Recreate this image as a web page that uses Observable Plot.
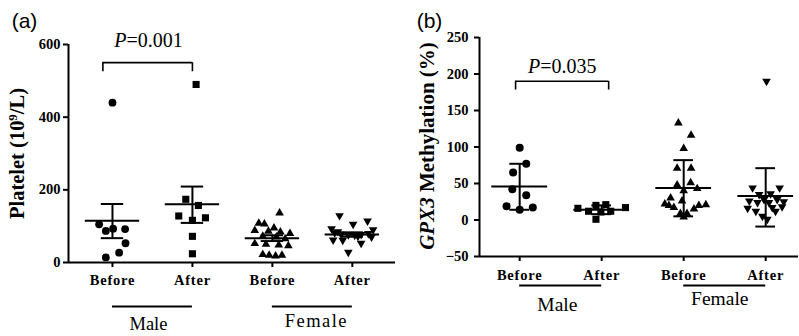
<!DOCTYPE html>
<html>
<head>
<meta charset="utf-8">
<script src="https://cdn.jsdelivr.net/npm/d3@7"></script>
<script src="https://cdn.jsdelivr.net/npm/@observablehq/plot@0.6"></script>
<style>
  body { margin: 0; background: #fff; }
  #wrap { position: relative; width: 799px; height: 336px; overflow: hidden; background: #fff; }
  #wrap svg { position: absolute; top: 0; }
  #wrap svg text { font-family: "Liberation Serif", "Times New Roman", serif !important; }
  #wrap svg .tag text { font-family: "Liberation Sans", Arial, sans-serif !important; }
</style>
</head>
<body>
<div id="wrap"></div>
<script>
// ---------- data ----------
const categories = ["Before", "After", "Before", "After"];
const groups = ["Male", "Female"];

// (a) Platelet (10^9/L)
const plateletTicks = [0, 200, 400, 600];
const pltMaleBefore = [440, 105, 87, 93, 92, 53, 27, 14];
const pltMaleBeforeOff = [0, -0.167, -0.083, 0.008, 0.158, 0.163, 0.083, -0.083];
const pltMaleAfter = [490, 174, 157, 128, 123, 116, 72, 24];
const pltMaleAfterOff = [0.046, -0.083, 0.075, -0.171, 0.163, 0, 0, 0];
const pltFemaleBefore = [136, 108, 106, 95, 88, 86, 84, 80, 72, 70, 65, 52, 50, 48, 46, 22, 20, 18, 20];
const pltFemaleBeforeOff = [0.09, -0.17, -0.1, 0.02, -0.22, -0.05, 0.1, 0.22, -0.12, 0.05, 0.16, -0.22, -0.08, 0.08, 0.2, -0.12, -0.04, 0.04, 0.12];
const pltFemaleAfter = [129, 105, 114, 93, 90, 82, 78, 76, 75, 77, 80, 62, 61, 53, 70, 28, 72, 85];
const pltFemaleAfterOff = [-0.16, 0.01, 0.19, -0.26, 0.26, -0.22, -0.14, -0.05, 0.03, 0.11, 0.2, -0.24, -0.12, 0.11, 0.24, -0.05, 0.07, -0.18];
const pltMean = [115, 160, 67, 77];
const pltHi = [161, 209, 75, 83];
const pltLo = [67, 109, 59, 71];
const pltP = "P=0.001";

// (b) GPX3 Methylation (%)
const methylTicks = [-50, 0, 50, 100, 150, 200, 250];
const gpxMaleBefore = [99, 77, 65, 42, 34, 19, 17, 14];
const gpxMaleBeforeOff = [0, 0.08, -0.08, -0.09, 0.08, -0.16, 0.16, 0];
const gpxMaleAfter = [16, 12, 20, 1, 11, 21, 12, 17];
const gpxMaleAfterOff = [-0.29, -0.16, -0.07, -0.07, -0.01, 0.05, 0.11, 0.29];
const gpxFemaleBefore = [133, 116, 98, 71, 71, 48, 51, 43, 40, 30, 22, 20, 17, 26, 15, 20, 21, 4, 9, 9];
const gpxFemaleBeforeOff = [-0.065, 0.09, 0, -0.08, 0.09, -0.08, 0.085, 0.165, 0, -0.16, -0.23, -0.18, -0.12, -0.02, 0.125, 0.185, 0.27, 0, -0.04, 0.04];
const gpxFemaleAfter = [190, 44, 44, 35, 36, 26, 28, 28, 25, 16, 12, 17, 18, 5, 1, 12, 24, 24];
const gpxFemaleAfterOff = [0.01, -0.16, 0.17, -0.08, 0.06, -0.2, -0.02, 0.14, 0.22, -0.22, -0.12, 0.08, 0.2, -0.04, 0.02, 0.12, -0.1, 0.04];
const gpxMean = [46, 14, 44, 33];
const gpxHi = [77, 20, 82, 71];
const gpxLo = [14, 8, 5, -9];
const gpxP = "P=0.035";

// ---------- helpers ----------
const triDown = {
  draw(context, size) {
    const y = -Math.sqrt(size / (Math.sqrt(3) * 3));
    context.moveTo(0, -y * 2);
    context.lineTo(-Math.sqrt(3) * y, y);
    context.lineTo(Math.sqrt(3) * y, y);
    context.closePath();
  }
};
const SERIF = "Liberation Serif";
const SANS = "Liberation Sans";

function panel(c) {
  const xdom = c.xdom, ydom = c.ydom;
  const stats = c.mean.map((m, i) => ({i, mean: m, hi: c.hi[i], lo: c.lo[i]}));
  const dotMarks = c.series.map((s, i) => Plot.dot(
    s.values.map((v, j) => ({x: i + s.off[j], y: v})),
    {x: "x", y: "y", symbol: s.symbol, r: s.r, fill: "black", stroke: "none"}
  ));
  const br = c.bracket;
  return Plot.plot({
    width: c.width, height: 336,
    marginLeft: c.marginLeft, marginRight: c.marginRight,
    marginTop: c.marginTop, marginBottom: 336 - c.axisY,
    x: {type: "linear", domain: xdom, axis: null},
    y: {domain: ydom, axis: null},
    style: {fontFamily: SERIF, color: "black", background: "transparent", overflow: "visible"},
    marks: [
      // axes
      Plot.ruleX([xdom[0]], {y1: ydom[0], y2: ydom[1], strokeWidth: 2}),
      Plot.ruleY([ydom[0]], {x1: xdom[0], x2: xdom[1], strokeWidth: 2}),
      Plot.axisY({ticks: c.yticks, tickSize: 5, tickPadding: c.yPad, strokeWidth: 2,
        fontSize: 14.5, fontWeight: "bold", label: null}),
      Plot.axisX({ticks: [0, 1, 2, 3], tickFormat: i => categories[i], tickSize: 5, tickPadding: c.xPad,
        strokeWidth: 2, fontSize: 14.5, fontWeight: "bold", label: null}),
      // points
      ...dotMarks,
      // mean and error bars
      Plot.ruleY(stats, {y: "mean", x1: d => d.i - 0.34, x2: d => d.i + 0.34, strokeWidth: 2}),
      Plot.ruleX(stats, {x: "i", y1: "lo", y2: "hi", strokeWidth: 2}),
      Plot.ruleY(stats, {y: "hi", x1: d => d.i - c.cap, x2: d => d.i + c.cap, strokeWidth: 2}),
      Plot.ruleY(stats, {y: "lo", x1: d => d.i - c.cap, x2: d => d.i + c.cap, strokeWidth: 2}),
      // significance bracket
      Plot.ruleY([br.top], {x1: br.x1, x2: br.x2, strokeWidth: 1.6}),
      Plot.ruleX([br.x1, br.x2], {y1: br.bottom, y2: br.top, strokeWidth: 1.6}),
      Plot.text([c.ptext], {x: br.tx, y: br.ty, fontSize: 20,
        textAnchor: "middle", lineAnchor: "middle"}),
      // group lines + labels
      Plot.ruleY(groups, {y: ydom[0], x1: (d, g) => 2 * g, x2: (d, g) => 2 * g + 1, dy: c.groupDy, strokeWidth: 2}),
      Plot.text(groups, {x: (d, g) => 2 * g + 0.5 + c.labelShift[g], y: ydom[0],
        dy: c.labelDy[0], fontSize: c.groupSize, textAnchor: "middle", lineAnchor: "middle",
        filter: (d, g) => g === 0}),
      Plot.text(groups, {x: (d, g) => 2 * g + 0.5 + c.labelShift[g], y: ydom[0],
        dy: c.labelDy[1], fontSize: c.groupSize, textAnchor: "middle", lineAnchor: "middle",
        filter: (d, g) => g === 1, className: c.femaleClass}),
      // y title
      Plot.text([c.ylabel], {frameAnchor: "left", rotate: -90, dx: c.ylabelDx, dy: c.ylabelDy,
        fontSize: c.ylabelSize, fontWeight: "bold",
        textAnchor: "middle", lineAnchor: "middle"}),
      // panel tag
      Plot.text([c.tag], {frameAnchor: "top-left", dx: c.tagX - c.marginLeft, dy: 21 - c.marginTop,
        fontSize: 21, fontFamily: SANS, textAnchor: "middle", lineAnchor: "middle", className: "tag"})
    ]
  });
}

const svgA = panel({
  width: 400, marginLeft: 68, marginRight: 5, marginTop: 44, axisY: 262,
  xdom: [-0.55, 3.54], ydom: [0, 600], yticks: plateletTicks, yPad: 3, xPad: 7,
  series: [
    {values: pltMaleBefore, off: pltMaleBeforeOff, symbol: "circle", r: 3.9},
    {values: pltMaleAfter, off: pltMaleAfterOff, symbol: "square", r: 4},
    {values: pltFemaleBefore, off: pltFemaleBeforeOff, symbol: "triangle", r: 3.2},
    {values: pltFemaleAfter, off: pltFemaleAfterOff, symbol: triDown, r: 3.2}
  ],
  mean: pltMean, hi: pltHi, lo: pltLo, cap: 0.14,
  bracket: {x1: -0.12, x2: 1, top: 550, bottom: 525, tx: 0.45, ty: 611},
  ptext: pltP,
  groupDy: 44, labelDy: [62, 59], labelShift: [-0.05, 0.05], groupSize: 18.5, femaleClass: "wide",
  ylabel: "Platelet (10^9/L)", ylabelDx: -51, ylabelDy: 0, ylabelSize: 20.5,
  tag: "(a)", tagX: 24
});
svgA.style.left = "0px";

const svgB = panel({
  width: 399, marginLeft: 79, marginRight: 1, marginTop: 37, axisY: 256,
  xdom: [-0.49, 3.4], ydom: [-50, 250], yticks: methylTicks, yPad: 6, xPad: 8,
  series: [
    {values: gpxMaleBefore, off: gpxMaleBeforeOff, symbol: "circle", r: 4},
    {values: gpxMaleAfter, off: gpxMaleAfterOff, symbol: "square", r: 4},
    {values: gpxFemaleBefore, off: gpxFemaleBeforeOff, symbol: "triangle", r: 3.2},
    {values: gpxFemaleAfter, off: gpxFemaleAfterOff, symbol: triDown, r: 3.2}
  ],
  mean: gpxMean, hi: gpxHi, lo: gpxLo, cap: 0.12,
  bracket: {x1: -0.05, x2: 1.085, top: 190, bottom: 178, tx: 0.52, ty: 210},
  ptext: gpxP,
  groupDy: 29, labelDy: [48, 42], labelShift: [-0.04, -0.06], groupSize: 19.5, femaleClass: "normal",
  ylabel: "GPX3 Methylation (%)", ylabelDx: -52, ylabelDy: -1, ylabelSize: 21,
  tag: "(b)", tagX: 29
});
svgB.style.left = "400px";

const wrap = document.getElementById("wrap");
wrap.appendChild(svgA);
wrap.appendChild(svgB);

// rich text: italic P, superscript 9, italic GPX3, letter-spaced category labels
const NS = "http://www.w3.org/2000/svg";
function rich(textEl, parts) {
  while (textEl.firstChild) textEl.removeChild(textEl.firstChild);
  for (const p of parts) {
    const t = document.createElementNS(NS, "tspan");
    t.textContent = p.t;
    if (p.style) t.setAttribute("font-style", p.style);
    if (p.size) t.setAttribute("font-size", p.size);
    if (p.dy) t.setAttribute("dy", p.dy);
    textEl.appendChild(t);
  }
}
for (const el of document.querySelectorAll("#wrap text")) {
  const s = el.textContent;
  if (s === pltP || s === gpxP) {
    const [a, b] = s.split("=");
    rich(el, [{t: a, style: "italic"}, {t: "=" + b}]);
  } else if (s === "Platelet (10^9/L)") {
    rich(el, [{t: "Platelet (10"}, {t: "9", size: "13px", dy: "-0.55em"}, {t: "/L)", dy: "0.35em"}]);
  } else if (s === "GPX3 Methylation (%)") {
    rich(el, [{t: "GPX3", style: "italic"}, {t: " Methylation (%)"}]);
  } else if (s === "Before" || s === "After") {
    el.setAttribute("letter-spacing", "0.8px");
  }
}
for (const el of document.querySelectorAll("#wrap .wide text")) el.setAttribute("letter-spacing", "1.5px");
</script>
</body>
</html>
